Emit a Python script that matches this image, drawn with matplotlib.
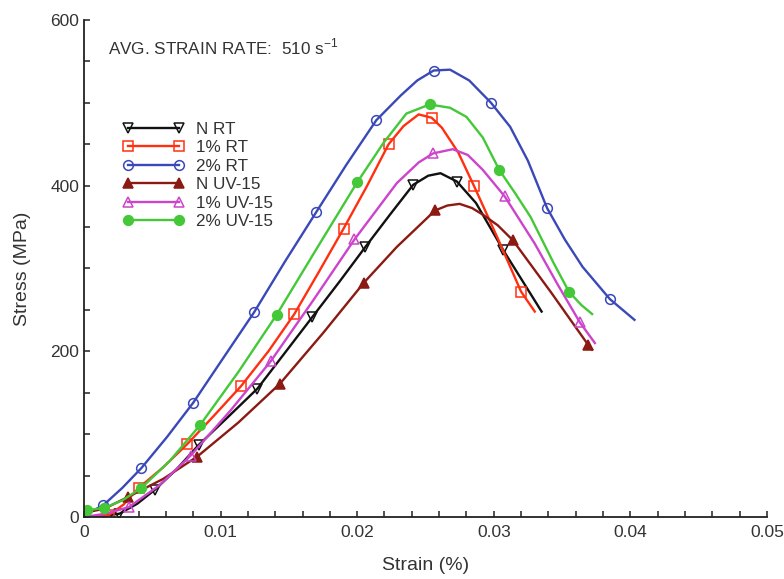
import matplotlib
matplotlib.use("Agg")
import matplotlib.pyplot as plt
from matplotlib.ticker import MultipleLocator, FixedFormatter, FixedLocator

plt.rcParams['font.family'] = ['Liberation Sans', 'DejaVu Sans']

# Stress-strain curves (strain, stress in MPa); marker indices pick the labelled points
n_rt_strain = [0, 0.0013, 0.0026, 0.0039, 0.0052, 0.0068, 0.0084, 0.0105, 0.0127, 0.0147,
               0.0167, 0.0187, 0.0206, 0.0224, 0.0241, 0.0252, 0.0261, 0.0273, 0.0287,
               0.0307, 0.0321, 0.0335]
n_rt_stress = [0, 1, 4, 16, 33, 58, 87, 120, 155, 198, 241, 284, 326, 365, 401, 412, 415,
               405, 379, 322, 285, 248]
n_rt_marks = [0, 2, 4, 6, 8, 10, 12, 14, 17, 19]

p1_rt_strain = [0, 0.0018, 0.0029, 0.0040, 0.0058, 0.00756, 0.0095, 0.0115, 0.0135, 0.0154,
                0.0172, 0.0190, 0.0207, 0.0223, 0.0234, 0.0245, 0.02545, 0.0262, 0.0274,
                0.02857, 0.0303, 0.0320, 0.0330]
p1_rt_stress = [0, 2, 15, 35, 60, 88, 122, 158, 200, 245, 296, 348, 399, 450, 472, 486, 482,
                470, 440, 399, 336, 272, 248]
p1_rt_marks = [1, 3, 5, 7, 9, 11, 13, 16, 19, 21]

p2_rt_strain = [0, 0.0014, 0.0028, 0.0042, 0.0061, 0.0080, 0.0102, 0.01245, 0.0147, 0.0170,
                0.0192, 0.0214, 0.0232, 0.0244, 0.0256, 0.0268, 0.0282, 0.0298, 0.0312,
                0.0325, 0.0339, 0.0352, 0.0365, 0.0385, 0.0403]
p2_rt_stress = [2, 14, 35, 59, 97, 138, 192, 247, 308, 368, 425, 479, 509, 527, 539, 540, 527,
                500, 471, 430, 373, 335, 302, 263, 238]
p2_rt_marks = [1, 3, 5, 7, 9, 11, 14, 17, 20, 23]

n_uv_strain = [0, 0.0015, 0.0032, 0.0058, 0.0083, 0.0113, 0.01435, 0.0175, 0.0205, 0.0229,
               0.0257, 0.0266, 0.0275, 0.0284, 0.0292, 0.0303, 0.0314, 0.0342, 0.0369, 0.0372]
n_uv_stress = [5, 10, 24, 46, 73, 114, 161, 222, 283, 326, 370, 376, 378, 373, 365, 352, 334,
               271, 208, 202]
n_uv_marks = [2, 4, 6, 8, 10, 16, 18]

p1_uv_strain = [0, 0.0016, 0.0033, 0.0055, 0.0078, 0.0107, 0.01367, 0.0168, 0.0198, 0.0229,
                0.0245, 0.02557, 0.0270, 0.0281, 0.0292, 0.0308, 0.0330, 0.0347, 0.0363, 0.0374]
p1_uv_stress = [0, 4, 12, 38, 74, 128, 188, 262, 335, 403, 428, 439, 444, 437, 419, 387, 330,
                280, 235, 210]
p1_uv_marks = [2, 4, 6, 8, 11, 15, 18]

p2_uv_strain = [0, 0.0002, 0.0015, 0.0028, 0.0042, 0.0063, 0.0085, 0.0113, 0.0141, 0.0170,
                0.0200, 0.0219, 0.0236, 0.0253, 0.0268, 0.0280, 0.0292, 0.0304, 0.0316, 0.0327,
                0.0344, 0.0355, 0.0364, 0.0372]
p2_uv_stress = [5, 8, 11, 20, 35, 68, 111, 175, 244, 323, 404, 451, 487, 498, 494, 483, 458,
                419, 390, 362, 306, 272, 256, 245]
p2_uv_marks = [1, 2, 4, 6, 8, 10, 13, 17, 21]

series = [
    ("N RT", n_rt_strain, n_rt_stress, n_rt_marks, "#111111", "v", "none"),
    ("1% RT", p1_rt_strain, p1_rt_stress, p1_rt_marks, "#ff3010", "s", "none"),
    ("2% RT", p2_rt_strain, p2_rt_stress, p2_rt_marks, "#3a48b8", "o", "none"),
    ("N UV-15", n_uv_strain, n_uv_stress, n_uv_marks, "#8b1a12", "^", "full"),
    ("1% UV-15", p1_uv_strain, p1_uv_stress, p1_uv_marks, "#cc44cc", "^", "none"),
    ("2% UV-15", p2_uv_strain, p2_uv_stress, p2_uv_marks, "#44c838", "o", "full"),
]

x_ticks = [0, 0.01, 0.02, 0.03, 0.04, 0.05]
x_tick_labels = ["0", "0.01", "0.02", "0.03", "0.04", "0.05"]
y_ticks = [0, 200, 400, 600]
y_tick_labels = ["0", "200", "400", "600"]

fig = plt.figure(figsize=(7.84, 5.79), dpi=100)
ax = fig.add_axes([0.1071, 0.1071, 0.8712, 0.8584])

for label, xs, ys, marks, color, marker, fill in series:
    ax.plot(xs, ys, color=color, lw=1.7, marker=marker, markevery=marks,
            markersize=7, fillstyle=fill, markeredgewidth=1.1,
            markeredgecolor=color, markerfacecolor=color if fill == "full" else "none",
            label=label)

ax.set_xlim(0, 0.05)
ax.set_ylim(0, 600)
ax.xaxis.set_major_locator(FixedLocator(x_ticks))
ax.xaxis.set_major_formatter(FixedFormatter(x_tick_labels))
ax.yaxis.set_major_locator(FixedLocator(y_ticks))
ax.yaxis.set_major_formatter(FixedFormatter(y_tick_labels))
ax.xaxis.set_minor_locator(MultipleLocator(0.002))
ax.yaxis.set_minor_locator(MultipleLocator(50))

for side in ("top", "right"):
    ax.spines[side].set_visible(False)
for side in ("left", "bottom"):
    ax.spines[side].set_linewidth(1.3)
    ax.spines[side].set_color("#222222")

ax.tick_params(which="both", direction="in", length=4, width=1.1, colors="#222222",
               labelsize=12.5, labelcolor="#333333")
ax.tick_params(axis="x", pad=6)

ax.set_xlabel("Strain (%)", fontsize=14, color="#333333", labelpad=12)
ax.set_ylabel("Stress (MPa)", fontsize=14, color="#333333", labelpad=14)

ax.text(0.035, 0.945, "AVG. STRAIN RATE:  510 s$^{\\mathregular{-1}}$", transform=ax.transAxes,
        fontsize=12.3, color="#333333", va="center", ha="left")

ax.legend(loc="upper left", bbox_to_anchor=(0.057, 0.795), frameon=False, fontsize=12.3,
          numpoints=2, handlelength=3.6, handletextpad=0.7, labelspacing=0.2,
          borderaxespad=0, borderpad=0, labelcolor="#333333")

fig.savefig("out.png", dpi=100)
